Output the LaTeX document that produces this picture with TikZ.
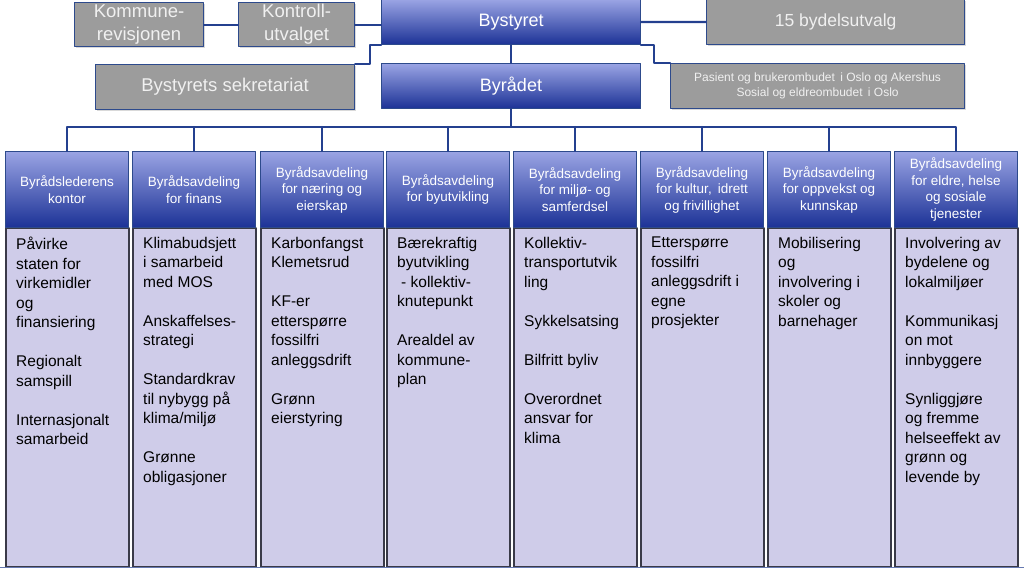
\documentclass[tikz,border=0pt]{standalone}
\usepackage{fontspec}
\setmainfont{Liberation Sans}
\usetikzlibrary{shadows}
\definecolor{bxgray}{HTML}{9C9C9C}
\definecolor{bxedge}{HTML}{2D4A8C}
\definecolor{lnblue}{HTML}{24408F}
\definecolor{hdtop}{HTML}{9AA4E4}
\definecolor{hdmid}{HTML}{6676CE}
\definecolor{hdbot}{HTML}{1C3296}
\definecolor{bdfill}{HTML}{CFCCE9}
\definecolor{bdedge}{HTML}{3A3A48}
\newcommand{\gap}{\\[19.5pt]}
\begin{document}
\begin{tikzpicture}[x=1pt,y=-1pt,line join=round,line cap=round,
	graybox/.style={draw=bxedge,line width=1.2pt,fill=bxgray,text=white!94!black,align=center,inner sep=0pt,anchor=north west,
		drop shadow={opacity=.3,shadow xshift=1.5pt,shadow yshift=-1.5pt}},
	bluebox/.style={draw=bxedge,line width=1pt,top color=hdtop,middle color=hdmid,bottom color=hdbot,text=white,align=center,inner sep=0pt,anchor=north west},
	headbox/.style={bluebox,minimum width=123pt,minimum height=76pt,font=\fontsize{13.5}{16.5}\selectfont},
	bodybox/.style={draw=bdedge,line width=1.6pt,fill=bdfill,anchor=north west,minimum width=123pt,minimum height=339pt,inner sep=0pt},
	bodytext/.style={anchor=north west,inner sep=0pt,align=left,font=\fontsize{15.5}{19.5}\selectfont},
	conn/.style={draw=lnblue,line width=2.2pt}]
	\useasboundingbox (0,0) rectangle (1024,568);
	\node[graybox,minimum width=129pt,minimum height=44pt,font=\fontsize{18.5}{23}\selectfont] (komrev) at (74,2) {Kommune-\\revisjonen};
	\node[graybox,minimum width=116pt,minimum height=44pt,font=\fontsize{18.5}{23}\selectfont] (kontroll) at (238,2) {Kontroll-\\utvalget};
	\node[bluebox,minimum width=259pt,minimum height=45pt,font=\fontsize{18}{22}\selectfont] (bystyret) at (381,-1) {Bystyret};
	\node[graybox,minimum width=258pt,minimum height=45pt,font=\fontsize{17.5}{22}\selectfont] (bydel) at (706,-1) {15 bydelsutvalg};
	\node[graybox,minimum width=259pt,minimum height=45pt,font=\fontsize{18.5}{22}\selectfont] (sekr) at (95,64) {Bystyrets sekretariat};
	\node[bluebox,minimum width=259pt,minimum height=45pt,font=\fontsize{18}{22}\selectfont] (byraadet) at (381,63) {Byrådet};
	\node[graybox,minimum width=294pt,minimum height=45pt,font=\fontsize{12}{15}\selectfont] (ombud) at (670,63) {Pasient og brukerombudet\, i Oslo og Akershus\\Sosial og eldreombudet\, i Oslo};
	\foreach \i/\x/\h/\b in {
		1/5/{Byrådslederens\\kontor}/{Påvirke\\staten for\\virkemidler\\og\\finansiering\gap Regionalt\\samspill\gap Internasjonalt\\samarbeid},
		2/132/{Byrådsavdeling\\for finans}/{Klimabudsjett\\i samarbeid\\med MOS\gap Anskaffelses-\\strategi\gap Standardkrav\\til nybygg på\\klima/miljø\gap Grønne\\obligasjoner},
		3/260/{Byrådsavdeling\\for næring og\\eierskap}/{Karbonfangst\\Klemetsrud\gap KF-er\\etterspørre\\fossilfri\\anleggsdrift\gap Grønn\\eierstyring},
		4/386/{Byrådsavdeling\\for byutvikling}/{Bærekraftig\\byutvikling\\\hspace*{4pt}- kollektiv-\\knutepunkt\gap Arealdel av\\kommune-\\plan},
		5/513/{Byrådsavdeling\\for miljø- og\\samferdsel}/{Kollektiv-\\transportutvik\\ling\gap Sykkelsatsing\gap Bilfritt byliv\gap Overordnet\\ansvar for\\klima},
		6/640/{Byrådsavdeling\\for kultur,\, idrett\\og frivillighet}/{Etterspørre\\fossilfri\\anleggsdrift i\\egne\\prosjekter},
		7/767/{Byrådsavdeling\\for oppvekst og\\kunnskap}/{Mobilisering\\og\\involvering i\\skoler og\\barnehager},
		8/894/{Byrådsavdeling\\for eldre, helse\\og sosiale\\tjenester}/{Involvering av\\bydelene og\\lokalmiljøer\gap Kommunikasj\\on mot\\innbyggere\gap Synliggjøre\\og fremme\\helseeffekt av\\grønn og\\levende by}}{
		\node[bodybox] (body\i) at (\x,227) {};
		\node[headbox] (head\i) at (\x,151) {\h};
		\node[bodytext] (txt\i) at (\x+11,237) {\b};
	}
	\path (byraadet.south) ++(0,18) coordinate (bus);
	\draw[conn] (komrev) -- (kontroll);
	\draw[conn] (kontroll) -- (bystyret.west |- kontroll.east);
	\draw[conn] (bystyret) -- (bydel);
	\draw[conn] (bystyret) -- (byraadet);
	\draw[conn] (bystyret.south west) -- ++(-11,0) |- (sekr.north east);
	\draw[conn] (bystyret.south east) -- ++(13,0) |- (ombud.north west);
	\draw[conn] (byraadet) -- (bus);
	\draw[conn] (head1.north) |- (bus) -| (head8.north);
	\foreach \i in {2,...,7}
	\draw[conn] (head\i.north) -- (head\i.north |- bus);
	\draw[lnblue!70,line width=1.5pt] (0,567.3) -- (1024,567.3);
\end{tikzpicture}
\end{document}
